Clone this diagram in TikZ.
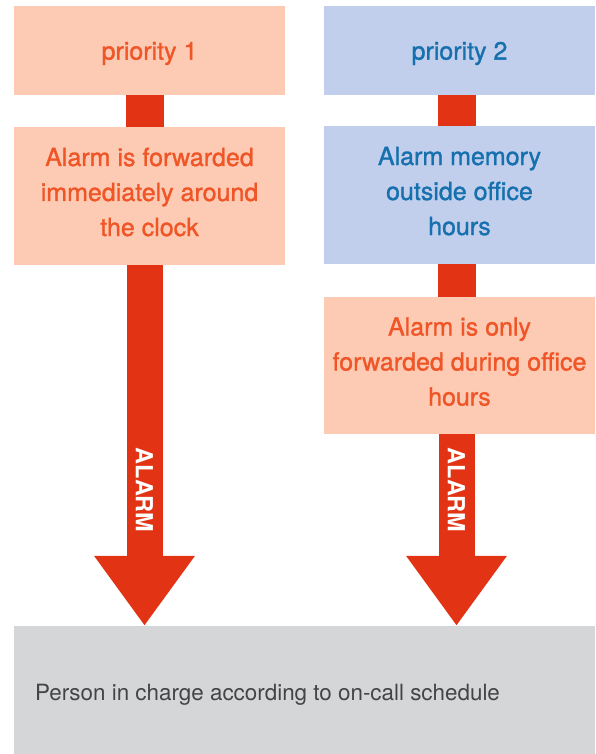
\documentclass[tikz,border=0pt]{standalone}
\usepackage{fontspec}
\setmainfont{TeX Gyre Heros}
\newfontfamily\medfont{TeX Gyre Heros}[FakeBold=1.2]
\usetikzlibrary{arrows.meta}
\definecolor{peach}{HTML}{FDCBB4}
\definecolor{peachtext}{HTML}{EF5527}
\definecolor{bluebox}{HTML}{C1CFED}
\definecolor{bluetext}{HTML}{1670AE}
\definecolor{alarmred}{HTML}{E23414}
\definecolor{graybox}{HTML}{D5D6D8}
\definecolor{graytext}{HTML}{444444}
\newcommand{\threelines}[3]{\raisebox{2pt}[\height][\depth]{\begin{tabular}{@{}c@{}}#1\\#2\\#3\end{tabular}}}
\begin{document}
\begin{tikzpicture}[x=1pt,y=-1pt,
  box/.style={rectangle, minimum width=271pt, inner sep=0pt, align=center,
    font=\medfont\fontsize{25}{35}\selectfont},
  orangebox/.style={box, fill=peach, text=peachtext},
  bluebx/.style={box, fill=bluebox, text=bluetext},
  bar/.style={draw=alarmred, line width=38pt},
  bigarrow/.style={draw=alarmred, line width=36pt,
    -{Triangle[width=96pt,length=70pt,fill=alarmred]}},
  alarmlabel/.style={text=white, font=\fontsize{23.5}{24}\selectfont\bfseries, rotate=-90, inner sep=0pt}
]
\useasboundingbox (0,0) rectangle (595,754);
% boxes
\node[orangebox, minimum height=89pt] (p1) at (149.5,50.5) {\raisebox{-3pt}[\height][\depth]{priority 1}};
\node[orangebox, minimum height=138pt] (a1) at (149.5,196) {\threelines{Alarm is forwarded}{immediately around}{the clock}};
\node[bluebx, minimum height=89pt] (p2) at (459.5,50.5) {\raisebox{-3pt}[\height][\depth]{priority 2}};
\node[bluebx, minimum height=138pt] (m2) at (459.5,195) {\threelines{Alarm memory}{outside office}{hours}};
\node[orangebox, minimum height=137pt] (f2) at (459.5,365.5) {\threelines{Alarm is only}{forwarded during office}{hours}};
\node[rectangle, fill=graybox, minimum width=581pt, minimum height=128pt, inner sep=0pt] (g) at (304.5,690) {};
\node[anchor=west, text=graytext, inner sep=0pt, font=\fontsize{22.4}{26}\selectfont] (gt) at (35,695) {Person in charge according to on-call schedule};
% connectors
\draw[bar] ([xshift=-5pt]p1.south) -- ([xshift=-5pt]a1.north);
\draw[bar] ([xshift=-3pt]p2.south) -- ([xshift=-3pt]m2.north);
\draw[bar] ([xshift=-3pt]m2.south) -- ([xshift=-3pt]f2.north);
\draw[bigarrow] ([xshift=-5pt]a1.south) -- ([xshift=-5pt]a1.south |- g.north);
\draw[bigarrow] ([xshift=-3pt]f2.south) -- ([xshift=-3pt]f2.south |- g.north);
% labels
\node[alarmlabel] (l1) at (144.5,490) {ALARM};
\node[alarmlabel] (l2) at (456.5,490) {ALARM};
\end{tikzpicture}
\end{document}
